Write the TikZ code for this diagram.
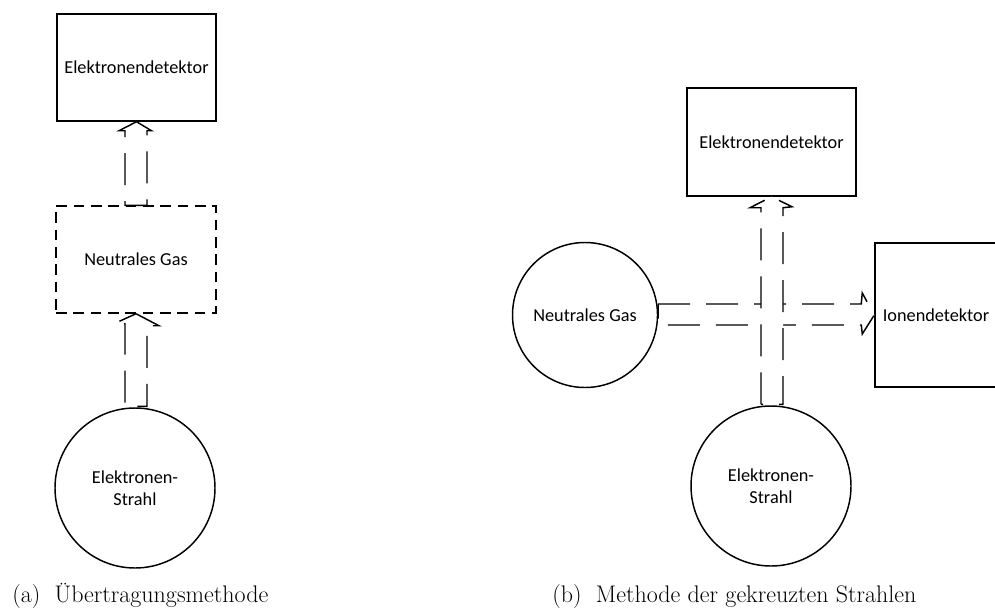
\documentclass[tikz,border=0pt]{standalone}
\usepackage{fontspec}
\newfontfamily\labelfont{Carlito}
\usetikzlibrary{calc}

\begin{document}
\begin{tikzpicture}[x=0.75pt,y=-0.75pt,
    box/.style={draw, line width=1.1pt, inner sep=0pt, align=center,
        font=\labelfont\fontsize{13.7}{16.5}\selectfont},
    gasbox/.style={box, dash pattern=on 8pt off 5pt},
    ball/.style={box, circle},
    beam/.style={draw, fill=white, line width=1.1pt, line join=miter,
        dash pattern=on 24pt off 12pt},
    caption/.style={anchor=base west, inner sep=0pt,
        font=\fontsize{18}{21}\selectfont}]
    \useasboundingbox (0,0) rectangle (995,610);

    % (a) Uebertragungsmethode
    \node[box, minimum width=119.25pt, minimum height=80.25pt] (detA) at (136.5,67.5) {Elektronendetektor};
    \node[gasbox, minimum width=120pt, minimum height=80.25pt] (gasA) at (136,259.5) {Neutrales Gas};
    \node[ball, minimum size=120pt] (strahlA) at (135,488) {Elektronen-\\Strahl};

    \draw[beam] (gasA.south) -- ($(gasA.south)+(23,12)$) -- ($(gasA.south)+(11,12)$)
        -- ($(strahlA.north)+(12,-1)$) -- ($(strahlA.north)+(-10,-1)$)
        -- ($(gasA.south)+(-11,10)$) -- ($(gasA.south)+(-22,10)$) -- cycle;
    \draw[beam] (detA.south) -- ($(detA.south)+(-17.5,9)$) -- ($(detA.south)+(-11.5,9)$)
        -- ($(gasA.north)+(-11,0)$) -- ($(gasA.north)+(11,0)$)
        -- ($(detA.south)+(10.5,9)$) -- ($(detA.south)+(15,9)$) -- cycle;

    % (b) Methode der gekreuzten Strahlen
    \node[box, minimum width=126.75pt, minimum height=81pt] (detB) at (771.5,142) {Elektronendetektor};
    \node[box, minimum width=91.5pt, minimum height=108pt] (ionB) at (936,315) {Ionendetektor};
    \node[ball, minimum size=108.75pt] (gasB) at (585,315) {Neutrales Gas};
    \node[ball, minimum size=120pt] (strahlB) at (771,486) {Elektronen-\\Strahl};

    \draw[beam] ($(gasB.east)+(0,-11)$) -- ($(ionB.west)+(-13,-11)$) -- ($(ionB.west)+(-12,-22)$)
        -- (ionB.west) -- ($(ionB.west)+(-12,19)$) -- ($(ionB.west)+(-13,10)$)
        -- ($(gasB.east)+(0,10)$) -- cycle;
    \draw[beam] ($(strahlB.north)+(-10,-1)$) -- ($(detB.south)+(-10.5,11)$) -- ($(detB.south)+(-21.5,11)$)
        -- (detB.south) -- ($(detB.south)+(20.5,10)$) -- ($(detB.south)+(11.5,11)$)
        -- ($(strahlB.north)+(12,-1)$) -- cycle;

    \node[caption] (capA) at (12,602) {(a)\hskip0.6em Übertragungsmethode};
    \node[caption] (capB) at (552,602) {(b)\hskip0.6em Methode der gekreuzten Strahlen};
\end{tikzpicture}
\end{document}
